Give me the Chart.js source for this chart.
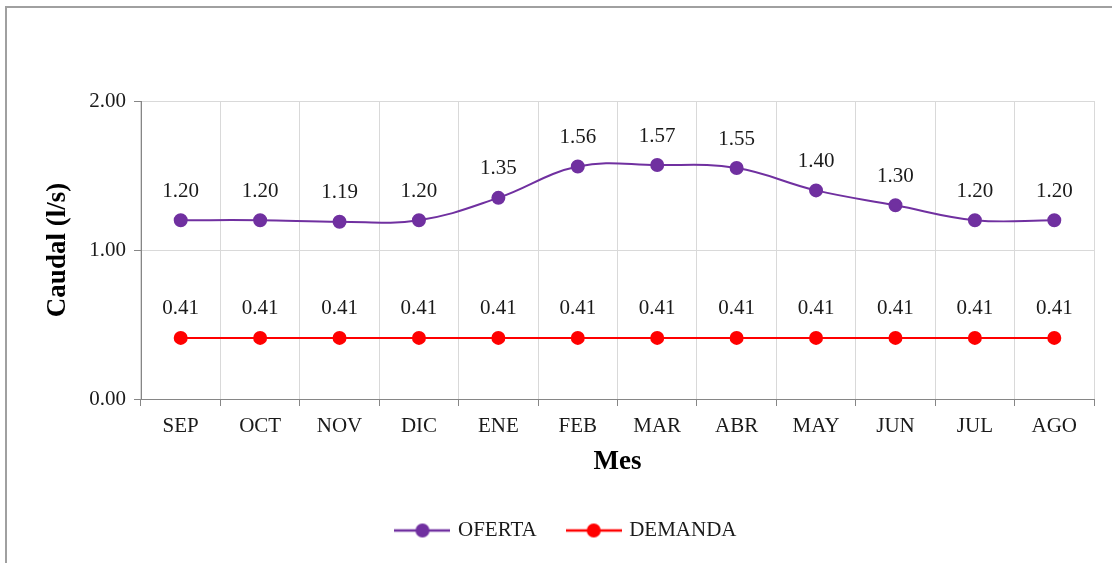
<!DOCTYPE html>
<html>
<head>
<meta charset="utf-8">
<script src="https://cdn.jsdelivr.net/npm/chart.js@4/dist/chart.umd.min.js"></script>
<style>
  html, body { margin: 0; padding: 0; background: #fff; }
  #frame { position: absolute; left: 5px; top: 6px; width: 1200px; height: 700px; border: 2px solid #a0a0a0; box-sizing: border-box; }
  #wrap { position: absolute; left: 0; top: 0; width: 1112px; height: 563px; }
</style>
</head>
<body>
<div id="frame"></div>
<div id="wrap"><canvas id="grafico"></canvas></div>
<script>
// datos mensuales de caudal (l/s)
const meses = ["SEP", "OCT", "NOV", "DIC", "ENE", "FEB", "MAR", "ABR", "MAY", "JUN", "JUL", "AGO"];
const oferta = [1.20, 1.20, 1.19, 1.20, 1.35, 1.56, 1.57, 1.55, 1.40, 1.30, 1.20, 1.20];
const demanda = [0.41, 0.41, 0.41, 0.41, 0.41, 0.41, 0.41, 0.41, 0.41, 0.41, 0.41, 0.41];
const ticksY = [0, 1, 2];

const serif = "'Liberation Serif', 'Times New Roman', serif";
const morado = "#7030A0";
const rojo = "#FF0000";

// marcador de leyenda: linea con circulo
function marcador(color) {
    const c = document.createElement("canvas");
    c.width = 56; c.height = 16;
    const g = c.getContext("2d");
    g.strokeStyle = color; g.lineWidth = 2.5;
    g.beginPath(); g.moveTo(0, 8); g.lineTo(56, 8); g.stroke();
    g.fillStyle = color;
    g.beginPath(); g.arc(28, 8, 7, 0, Math.PI * 2); g.fill();
    return c;
}

// etiquetas de valor sobre los puntos
const etiquetas = {
    id: "etiquetas",
    afterDatasetsDraw(chart) {
        const ctx = chart.ctx;
        ctx.save();
        ctx.font = "21px " + serif;
        ctx.fillStyle = "#1a1a1a";
        ctx.textAlign = "center";
        ctx.textBaseline = "middle";
        chart.data.datasets.forEach((ds, i) => {
            chart.getDatasetMeta(i).data.forEach((pt, j) => {
                ctx.fillText(ds.data[j].toFixed(2), pt.x, pt.y - 29);
            });
        });
        ctx.restore();
    }
};

const ctx = document.getElementById("grafico").getContext("2d");
const grafico = new Chart(ctx, {
    type: "line",
    data: {
        labels: meses,
        datasets: [{
            label: "OFERTA",
            data: oferta,
            borderColor: morado,
            backgroundColor: morado,
            borderWidth: 2,
            pointRadius: 6,
            pointHoverRadius: 6,
            tension: 0.4
        }, {
            label: "DEMANDA",
            data: demanda,
            borderColor: rojo,
            backgroundColor: rojo,
            borderWidth: 2,
            pointRadius: 6,
            pointHoverRadius: 6,
            tension: 0
        }]
    },
    options: {
        responsive: true,
        maintainAspectRatio: false,
        animation: false,
        layout: { padding: { top: 101, right: 18, left: 40, bottom: 12 } },
        plugins: {
            tooltip: { enabled: false },
            legend: {
                position: "bottom",
                labels: {
                    font: { family: serif, size: 21 },
                    color: "#1a1a1a",
                    usePointStyle: true,
                    pointStyleWidth: 50,
                    padding: 32,
                    generateLabels(chart) {
                        return chart.data.datasets.map((ds, i) => ({
                            text: ds.label,
                            pointStyle: marcador(ds.borderColor),
                            fillStyle: ds.borderColor,
                            strokeStyle: ds.borderColor,
                            lineWidth: 0,
                            datasetIndex: i,
                            fontColor: "#1a1a1a"
                        }));
                    }
                }
            }
        },
        scales: {
            x: {
                offset: true,
                afterFit(axis) { axis.height = 89; },
                grid: { color: "#d9d9d9", tickColor: "#868686", tickLength: 7, offset: true },
                border: { color: "#868686", width: 1 },
                ticks: { font: { family: serif, size: 21 }, color: "#1a1a1a", padding: 8 },
                title: {
                    display: true, text: "Mes",
                    font: { family: serif, size: 27, weight: "bold" }, color: "#000",
                    padding: { top: 0, bottom: 10 }
                }
            },
            y: {
                min: 0, max: 2,
                afterFit(axis) { axis.width = 101; },
                afterBuildTicks(axis) { axis.ticks = ticksY.map(v => ({ value: v })); },
                grid: { color: "#d9d9d9", tickColor: "#868686", tickLength: 7 },
                border: { color: "#868686", width: 1 },
                ticks: {
                    font: { family: serif, size: 21 }, color: "#1a1a1a", padding: 8,
                    callback: v => v.toFixed(2)
                },
                title: {
                    display: true, text: "Caudal (l/s)",
                    font: { family: serif, size: 27, weight: "bold" }, color: "#000",
                    padding: { top: 2, bottom: 0 }
                }
            }
        }
    },
    plugins: [etiquetas]
});
</script>
</body>
</html>
